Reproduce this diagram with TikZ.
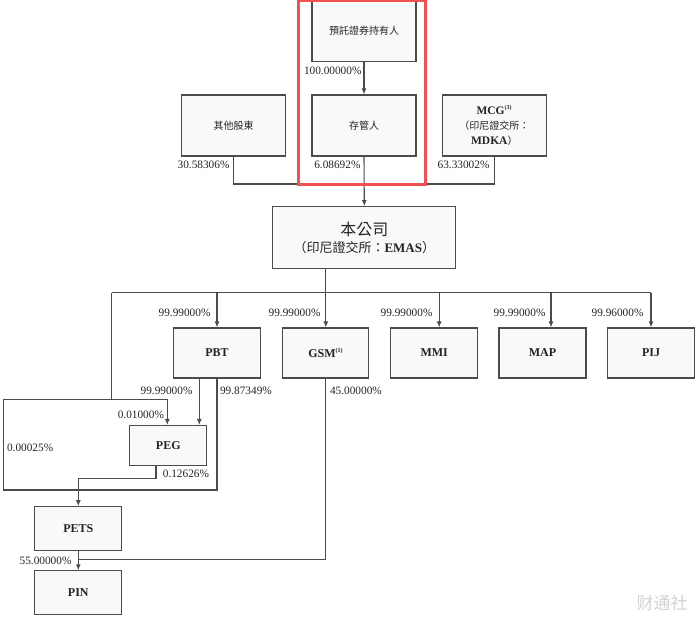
\documentclass[tikz,border=0pt]{standalone}
\usepackage{fontspec}
\setmainfont{Liberation Serif}
\newfontfamily\cjk{Noto Sans CJK TC}
\newfontfamily\cjksc{Noto Sans CJK SC}
\usetikzlibrary{arrows.meta}
\definecolor{linegray}{RGB}{75,75,75}
\definecolor{boxfill}{RGB}{248,249,249}
\definecolor{txt}{RGB}{35,35,35}
\definecolor{hl}{RGB}{240,82,84}
\tikzset{arrow/.style={-{Latex[length=6pt,width=5pt]}}}
\tikzset{ent/.style={draw=linegray, fill=boxfill, line width=1.1pt, inner sep=0pt, align=center, text=txt,
    font=\fontsize{12}{15}\selectfont\bfseries}}
\tikzset{top/.style={ent, minimum width=104pt, minimum height=61pt}}
\tikzset{sub/.style={ent, minimum width=87pt, minimum height=50pt}}
\tikzset{pct/.style={inner sep=0pt, text=txt, font=\fontsize{11.3}{12}\selectfont}}
\newcommand{\zh}[1]{{\cjk\mdseries\fontsize{10}{15}\selectfont #1}}
\newcommand{\nt}[1]{\textsuperscript{\fontsize{6}{6}\selectfont(#1)}}

\begin{document}
\begin{tikzpicture}[x=1pt, y=-1pt, line width=1.1pt, linegray]
    \useasboundingbox (0,0) rectangle (700,617);
    \node[top, minimum height=62pt] (adsh) at (364,30.5) {\zh{預託證券持有人}};
    \node[top] (depo) at (364,125.5) {\zh{存管人}};
    \node[top] (othr) at (233.7,125.5) {\zh{其他股東}};
    \node[top, font=\fontsize{11.5}{15}\selectfont\bfseries] (mcg) at (494.3,125.5) {MCG\nt{3}\\\zh{（印尼證交所：}\\MDKA\zh{）}};
    \node[ent, minimum width=183pt, minimum height=61.6pt, font=\fontsize{13}{17}\selectfont] (emas) at (364.3,237.5)
        {{\cjk\fontsize{16}{17}\selectfont 本公司}\\{\cjk （印尼證交所：}{\bfseries EMAS}{\cjk ）}};
    \node[sub] (pbt) at (217,353) {PBT};
    \node[sub, minimum width=86pt] (gsm) at (325.8,353) {GSM\nt{1}};
    \node[sub] (mmi) at (434.2,353) {MMI};
    \node[sub] (map) at (542.5,353) {MAP};
    \node[sub] (pij) at (651,353) {PIJ};
    \node[ent, minimum width=77pt, minimum height=40pt] (peg) at (168.3,445.5) {PEG};
    \node[ent, minimum width=87pt, minimum height=44pt] (pets) at (78.3,528.7) {PETS};
    \node[ent, minimum width=87pt, minimum height=44pt] (pin) at (78.3,592.8) {PIN};

    \coordinate (jn) at (364,184);
    \coordinate (bus) at (325.8,292.7);
    \coordinate (lft) at (111.7,292.7);
    \coordinate (upl) at (3.3,399.3);
    \coordinate (lowl) at (3.3,490);
    \coordinate (mrg) at (78.3,559.3);

    \draw[arrow] (adsh.south) to (depo.north);
    \draw (othr.south) |- (jn) -| (mcg.south);
    \draw[arrow] (depo.south) to (emas.north);
    \draw (emas.south -| bus) to (bus);
    \draw (lft) to (bus -| pij.north);
    \draw[arrow] (bus -| pbt.north) to (pbt.north);
    \draw[arrow] (bus) to (gsm.north);
    \draw[arrow] ([xshift=5pt]mmi.north |- bus) to ([xshift=5pt]mmi.north);
    \draw[arrow] ([xshift=8.5pt]map.north |- bus) to ([xshift=8.5pt]map.north);
    \draw[arrow] (bus -| pij.north) to (pij.north);
    \draw (lft) to (lft |- upl);
    \draw[arrow] (pbt.south) |- (lowl) -- (upl) -| ([xshift=-1pt]peg.north);
    \draw[arrow] ([xshift=-17.7pt]pbt.south) to ([xshift=-17.7pt]pbt.south |- peg.north);
    \draw[arrow] ([xshift=-12.3pt]peg.south) -- ++(0,12.4) -| (pets.north);
    \draw[arrow] (pets.south) to (pin.north);
    \draw (gsm.south) |- (mrg);

    \node[pct, anchor=east] (p1) at (362,71) {100.00000\%};
    \node[pct, anchor=east] (p2) at (230,165) {30.58306\%};
    \node[pct, anchor=east] (p3) at (361,165) {6.08692\%};
    \node[pct, anchor=east] (p4) at (490,165) {63.33002\%};
    \node[pct, anchor=east] (p5) at (211,313.3) {99.99000\%};
    \node[pct, anchor=east] (p6) at (321,313.3) {99.99000\%};
    \node[pct, anchor=east] (p7) at (433,313.3) {99.99000\%};
    \node[pct, anchor=east] (p8) at (546,313.3) {99.99000\%};
    \node[pct, anchor=east] (p9) at (644,313.3) {99.96000\%};
    \node[pct, anchor=east] (p10) at (193,391) {99.99000\%};
    \node[pct, anchor=west] (p11) at (219.5,391) {99.87349\%};
    \node[pct, anchor=west] (p12) at (329.5,391) {45.00000\%};
    \node[pct, anchor=east] (p13) at (164.5,415) {0.01000\%};
    \node[pct, anchor=west] (p14) at (6.5,447.7) {0.00025\%};
    \node[pct, anchor=west] (p15) at (162.3,474.3) {0.12626\%};
    \node[pct, anchor=east] (p16) at (72,561) {55.00000\%};

    \draw[hl, line width=3pt] (298.3,0.3) rectangle (425,185);
    \node[inner sep=0pt, anchor=west, text=gray!35, font=\cjksc\fontsize{17}{17}\selectfont] (wm) at (636,603) {财通社};
  \end{tikzpicture}
\end{document}
